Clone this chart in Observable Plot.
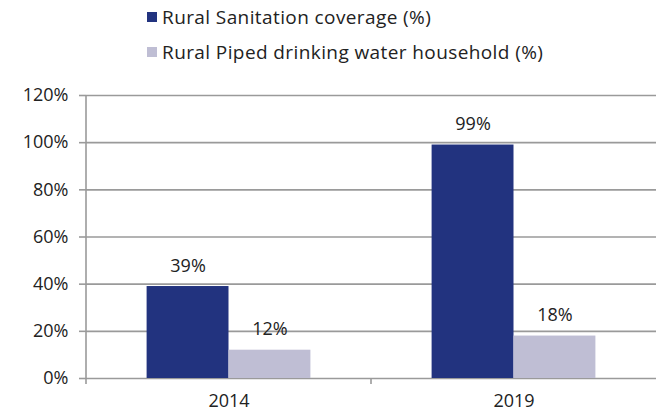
<!DOCTYPE html>
<html>
<head>
<meta charset="utf-8">
<script src="https://cdn.jsdelivr.net/npm/d3@7"></script>
<script src="https://cdn.jsdelivr.net/npm/@observablehq/plot@0.6"></script>
<style>
  html, body { margin: 0; padding: 0; background: #fff; }
  body { width: 656px; height: 414px; overflow: hidden; font-family: "Open Sans", sans-serif; color: #222; }
  #legend { position: relative; height: 75px; }
  .item { position: absolute; left: 147px; display: flex; align-items: center; font-size: 19px; letter-spacing: 0.4px; white-space: nowrap; }
  .sw { width: 10px; height: 10px; margin-right: 5px; }
  svg text.num { letter-spacing: 1px; }
</style>
</head>
<body>
<div id="legend"></div>
<div id="chart"></div>
<script>
const years = ["2014", "2019"];
const series = ["Rural Sanitation coverage (%)", "Rural Piped drinking water household (%)"];
const sanitation = [0.39, 0.99];
const pipedWater = [0.12, 0.18];
const colors = ["#22337f", "#bfbed4"];
const yTicks = [0, 0.2, 0.4, 0.6, 0.8, 1.0, 1.2];

const data = [];
years.forEach((yr, i) => {
  data.push({year: yr, series: series[0], value: sanitation[i]});
  data.push({year: yr, series: series[1], value: pipedWater[i]});
});

// Legend
const legend = document.getElementById("legend");
series.forEach((s, i) => {
  const div = document.createElement("div");
  div.className = "item";
  div.style.top = (i * 35 + 4) + "px";
  const sw = document.createElement("span");
  sw.className = "sw";
  sw.style.background = colors[i];
  div.appendChild(sw);
  div.appendChild(document.createTextNode(s));
  legend.appendChild(div);
});

const pct = d => Math.round(d * 100) + "%";
const gray = "#9a9a9a";

// axis line + category boundary ticks, rendered once per facet (in facet order)
let facetCount = 0;
function decor(index, scales, values, dims) {
  const ns = "http://www.w3.org/2000/svg";
  const g = document.createElementNS(ns, "g");
  const y0 = scales.y(0);
  const yTop = scales.y(d3.max(yTicks));
  const x = dims.marginLeft;
  const l = document.createElementNS(ns, "line");
  l.setAttribute("x1", x); l.setAttribute("x2", x);
  l.setAttribute("y1", facetCount === 0 ? yTop : y0);
  l.setAttribute("y2", y0 + 6);
  l.setAttribute("stroke", gray);
  l.setAttribute("stroke-width", 1.6);
  g.appendChild(l);
  facetCount++;
  return g;
}

const chart = Plot.plot({
  width: 656,
  height: 339,
  marginTop: 20,
  marginBottom: 36,
  marginLeft: 85,
  marginRight: 0,
  style: {fontFamily: "Open Sans, sans-serif", fontSize: "17px", color: "#222", background: "#fff"},
  fx: {domain: years, padding: 0, label: null},
  x: {domain: series, paddingInner: 0, paddingOuter: 0.74, round: false, axis: null},
  y: {domain: [0, 1.2], label: null},
  color: {domain: series, range: colors},
  marks: [
    Plot.ruleY(yTicks, {y: d => d, stroke: gray, strokeWidth: 1.6}),
    Plot.barY(data, {fx: "year", x: "series", y: "value", fill: "series"}),
    Plot.text(data, {fx: "year", x: "series", y: "value", text: d => pct(d.value), lineAnchor: "bottom", dy: -15, fontSize: 18, fill: "#222", className: "num"}),
    Plot.axisY({ticks: yTicks, tickFormat: pct, tickSize: 7, tickPadding: 11, stroke: gray, strokeWidth: 1.6, strokeOpacity: 1, fontSize: 18, fill: "#222", label: null, className: "num"}),
    Plot.axisFx({anchor: "bottom", tickSize: 0, tickPadding: 16, fontSize: 18, fill: "#222", label: null, className: "num"}),
    decor
  ]
});
document.getElementById("chart").appendChild(chart);
</script>
</body>
</html>
